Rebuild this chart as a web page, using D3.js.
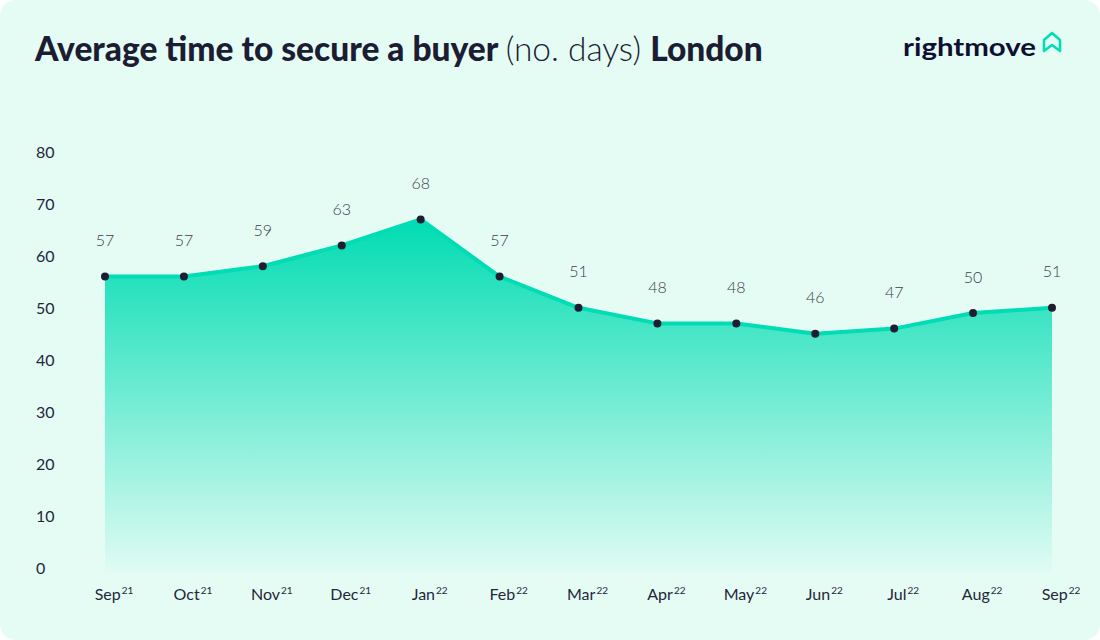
<!DOCTYPE html>
<html>
<head>
<meta charset="utf-8">
<script src="https://cdn.jsdelivr.net/npm/d3@7"></script>
<style>
  html, body { margin: 0; padding: 0; background: #ffffff; }
  svg { display: block; font-family: Lato, "Open Sans", sans-serif; }
</style>
</head>
<body>
<svg id="chart" width="1100" height="640"></svg>
<script>
// months (main label + superscript year)
const months = ["Sep", "Oct", "Nov", "Dec", "Jan", "Feb", "Mar", "Apr", "May", "Jun", "Jul", "Aug", "Sep"];
const years = ["21", "21", "21", "21", "22", "22", "22", "22", "22", "22", "22", "22", "22"];
// average number of days to secure a buyer, London
const days = [57, 57, 59, 63, 68, 57, 51, 48, 48, 46, 47, 50, 51];
const yTicks = [0, 10, 20, 30, 40, 50, 60, 70, 80];

const svg = d3.select("#chart");
const W = 1100, H = 640;

const keys = months.map((m, i) => i);
const data = keys.map(i => ({ i, month: months[i], year: years[i], value: days[i] }));

// card background
svg.append("rect")
  .attr("width", W)
  .attr("height", H)
  .attr("rx", 16)
  .attr("fill", "#e5fcf5");

const defs = svg.append("defs");
const grad = defs.append("linearGradient")
  .attr("id", "areaFill")
  .attr("x1", 0).attr("x2", 0)
  .attr("y1", 0).attr("y2", 1);
grad.append("stop").attr("offset", "0%").attr("stop-color", "#00dcb2").attr("stop-opacity", 1);
grad.append("stop").attr("offset", "100%").attr("stop-color", "#00dcb2").attr("stop-opacity", 0.02);

const x = d3.scalePoint()
  .domain(keys)
  .range([105, 1052]);

const y = d3.scaleLinear()
  .domain([0, 80])
  .range([573, 157]);

// title
const title = svg.append("text")
  .attr("x", 35)
  .attr("y", 61)
  .attr("fill", "#1c1c33")
  .attr("font-size", 33.5);
title.append("tspan").attr("font-weight", 900).text("Average time to secure a buyer ");
title.append("tspan").attr("font-weight", 300).text("(no. days) ");
title.append("tspan").attr("font-weight", 900).text("London");

// logo
svg.append("text")
  .attr("x", 903)
  .attr("y", 56)
  .attr("fill", "#0f0f33")
  .attr("font-size", 25)
  .attr("font-weight", 700)
  .attr("textLength", 133)
  .attr("lengthAdjust", "spacingAndGlyphs")
  .text("rightmove");
svg.append("path")
  .attr("d", "M1044,51 L1044,40 L1052,33 L1060,40 L1060,51 L1052,45 Z")
  .attr("fill", "none")
  .attr("stroke", "#00deb6")
  .attr("stroke-width", 2.6)
  .attr("stroke-linejoin", "round");

// y axis labels
svg.append("g")
  .selectAll("text")
  .data(yTicks)
  .join("text")
  .attr("x", 36)
  .attr("y", d => y(d) - 5)
  .attr("dy", "0.35em")
  .attr("fill", "#26263a")
  .attr("font-size", 16)
  .text(d => d);

// area
const area = d3.area()
  .x(d => x(d.i))
  .y0(y(0))
  .y1(d => y(d.value));

svg.append("path")
  .datum(data)
  .attr("d", area)
  .attr("fill", "url(#areaFill)");

const line = d3.line()
  .x(d => x(d.i))
  .y(d => y(d.value));

svg.append("path")
  .datum(data)
  .attr("d", line)
  .attr("fill", "none")
  .attr("stroke", "#00dcb4")
  .attr("stroke-width", 4)
  .attr("stroke-linejoin", "round");

// dots
svg.append("g")
  .selectAll("circle")
  .data(data)
  .join("circle")
  .attr("cx", d => x(d.i))
  .attr("cy", d => y(d.value))
  .attr("r", 4)
  .attr("fill", "#1e1e30");

// value labels
svg.append("g")
  .selectAll("text")
  .data(data)
  .join("text")
  .attr("x", d => x(d.i))
  .attr("y", d => y(d.value) - 36)
  .attr("dy", "0.35em")
  .attr("text-anchor", "middle")
  .attr("fill", "#3c3c4c")
  .attr("font-size", 16)
  .attr("font-weight", 300)
  .text(d => d.value);

// x labels with superscript year
const xl = svg.append("g")
  .selectAll("text")
  .data(data)
  .join("text")
  .attr("x", d => x(d.i) + 9)
  .attr("y", 600)
  .attr("text-anchor", "middle")
  .attr("fill", "#26263a")
  .attr("font-size", 16);
xl.append("tspan").text(d => d.month);
xl.append("tspan")
  .attr("font-size", 10)
  .attr("dy", -6)
  .attr("dx", 1)
  .text(d => d.year);
</script>
</body>
</html>
